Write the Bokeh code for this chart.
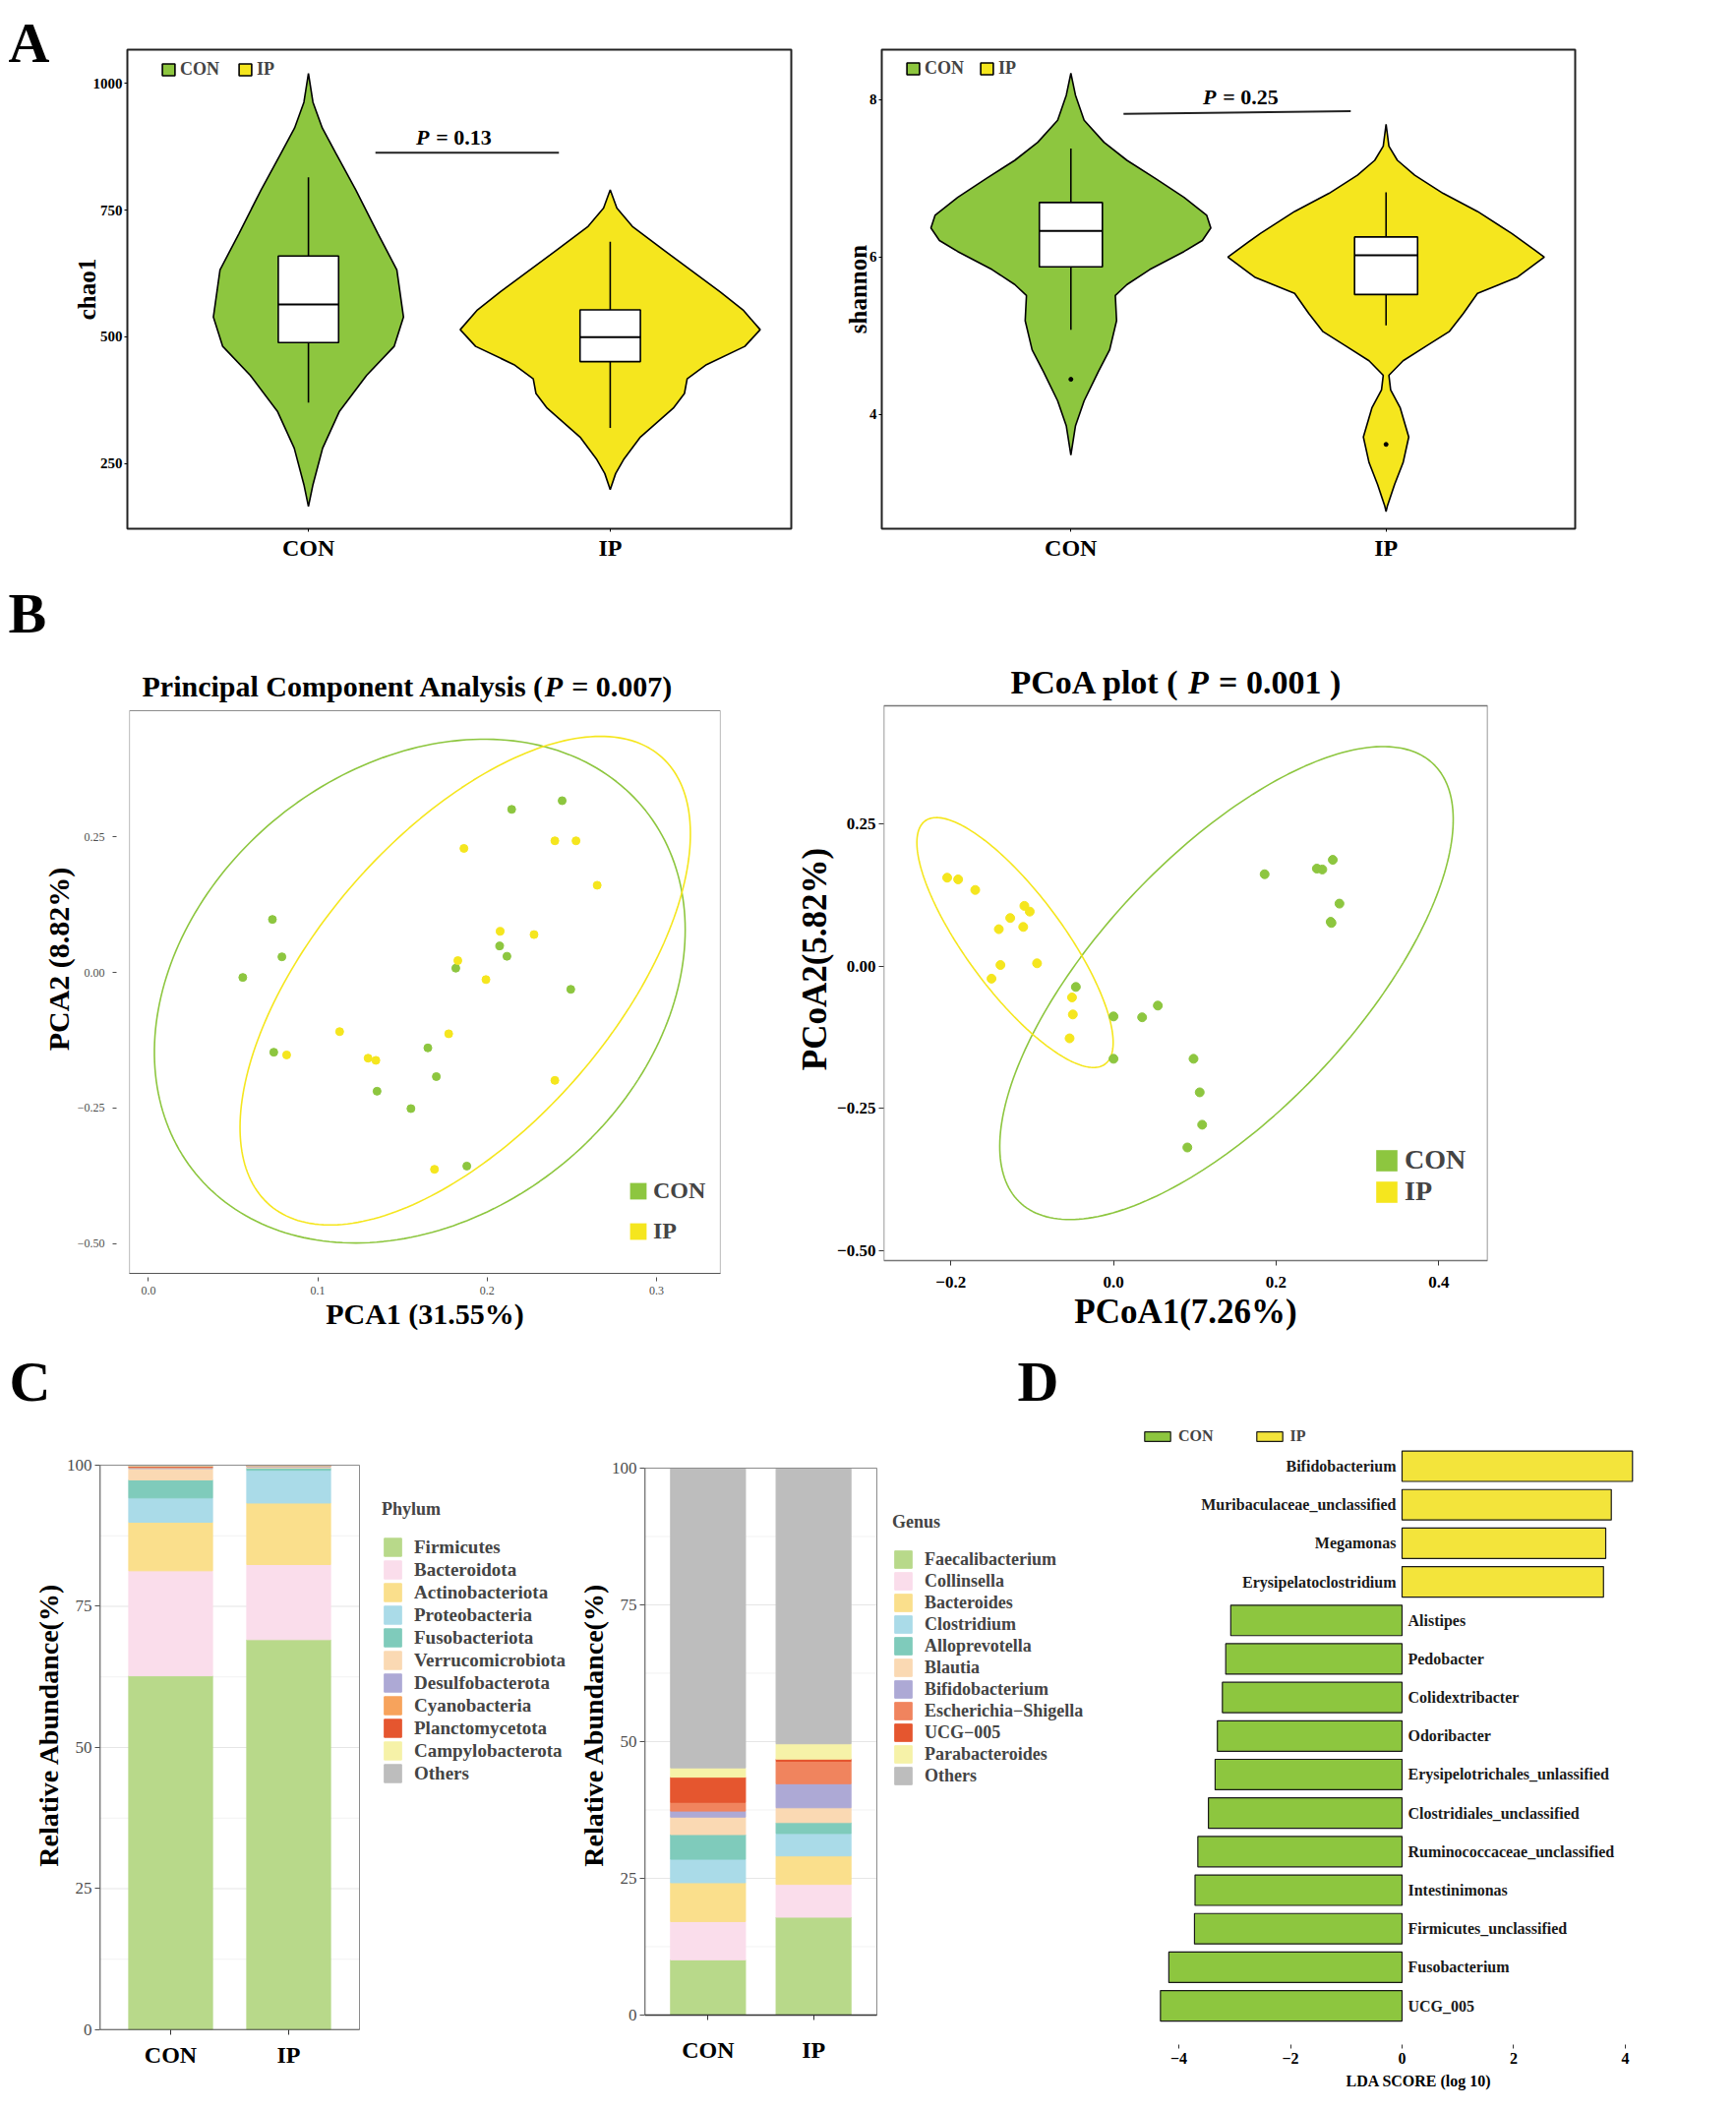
import numpy as np
from bokeh.plotting import figure
from bokeh.layouts import row, column
from bokeh.models import Range1d, Label, Legend, LegendItem, FixedTicker, ColumnDataSource
from bokeh.core.properties import value
from bokeh.embed import file_html
from bokeh.resources import INLINE

SERIF = "Liberation Serif"
GREEN = "#8DC63F"
YELLOW = "#F5E61E"
LDA_YELLOW = "#F3E43B"

groups = ["CON", "IP"]

# ---------------- Panel A: alpha diversity violins ----------------
chao1_con_val = [1020, 963, 912, 862, 790, 704, 632, 539, 481, 424, 352, 280, 208, 165]
chao1_con_half = [0.0, 0.015, 0.046, 0.091, 0.157, 0.230, 0.293, 0.315, 0.284, 0.193, 0.102, 0.047, 0.015, 0.0]
chao1_ip_val = [790, 754, 718, 661, 589, 553, 514, 481, 445, 417, 388, 359, 302, 259, 230, 198]
chao1_ip_half = [0.0, 0.022, 0.073, 0.200, 0.364, 0.440, 0.497, 0.446, 0.319, 0.255, 0.246, 0.209, 0.100, 0.046, 0.018, 0.0]
# q1, median, q3, lower whisker, upper whisker
chao1_box_con = [488.5, 564, 659.5, 370, 815]
chao1_box_ip = [451, 499, 553, 320, 687.5]
chao1_outliers_con = []
chao1_outliers_ip = []
chao1_ticks = [250, 500, 750, 1000]
chao1_p = "0.13"
chao1_p_pos = (1.5, 894)
chao1_p_line = (1.222, 863.5, 1.83, 863.5)

shannon_con_val = [8.338, 8.06, 7.74, 7.46, 7.23, 7.00, 6.76, 6.53, 6.37, 6.21, 6.07, 5.84, 5.65, 5.51, 5.19, 4.82, 4.54, 4.17, 3.85, 3.48]
shannon_con_half = [0, 0.0145, 0.042, 0.105, 0.178, 0.268, 0.359, 0.431, 0.444, 0.417, 0.359, 0.25, 0.178, 0.141, 0.145, 0.123, 0.087, 0.042, 0.0145, 0]
shannon_ip_val = [7.69, 7.41, 7.23, 7.04, 6.81, 6.58, 6.30, 6.00, 5.745, 5.537, 5.28, 5.05, 4.866, 4.68, 4.495, 4.31, 4.08, 3.71, 3.384, 3.106, 2.83, 2.76]
shannon_ip_half = [0, 0.009, 0.036, 0.091, 0.181, 0.29, 0.399, 0.502, 0.417, 0.29, 0.245, 0.2, 0.127, 0.054, 0.009, 0.0145, 0.045, 0.072, 0.054, 0.027, 0.004, 0]
shannon_box_con = [5.875, 6.333, 6.694, 5.074, 7.38]
shannon_box_ip = [5.523, 6.023, 6.255, 5.13, 6.824]
shannon_outliers_con = [4.444]
shannon_outliers_ip = [3.616]
shannon_ticks = [4, 6, 8]
shannon_p = "0.25"
shannon_p_pos = (1.556, 8.04)
shannon_p_line = (1.167, 7.82, 1.888, 7.856)

# ---------------- Panel B: ordination ----------------
pca_con_x = [0.2145, 0.2443, 0.0732, 0.0788, 0.0557, 0.2074, 0.2117, 0.1815, 0.2494, 0.074, 0.165, 0.170, 0.135, 0.155, 0.188]
pca_con_y = [0.301, 0.317, 0.098, 0.029, -0.009, 0.049, 0.030, 0.008, -0.031, -0.147, -0.139, -0.192, -0.219, -0.251, -0.357]
pca_ip_x = [0.1863, 0.240, 0.2525, 0.265, 0.2077, 0.2277, 0.1827, 0.1993, 0.1129, 0.1773, 0.0816, 0.1297, 0.1343, 0.240, 0.1689]
pca_ip_y = [0.229, 0.243, 0.243, 0.161, 0.076, 0.070, 0.022, -0.013, -0.109, -0.113, -0.152, -0.158, -0.162, -0.199, -0.363]

pcoa_con_x = [0.1858, 0.250, 0.2567, 0.2696, 0.2778, 0.267, 0.268, -0.0463, 0.000, 0.0352, 0.0545, 0.000, 0.0984, 0.106, 0.109, 0.0908]
pcoa_con_y = [0.1617, 0.1716, 0.170, 0.187, 0.110, 0.078, 0.076, -0.0366, -0.0885, -0.090, -0.0694, -0.163, -0.163, -0.222, -0.279, -0.319]
pcoa_ip_x = [-0.2045, -0.191, -0.170, -0.1096, -0.103, -0.127, -0.141, -0.111, -0.094, -0.139, -0.150, -0.051, -0.050, -0.054]
pcoa_ip_y = [0.1556, 0.1526, 0.134, 0.106, 0.096, 0.0847, 0.065, 0.069, 0.005, 0.002, -0.022, -0.055, -0.085, -0.127]

CHI2_95_2DF = 5.991

# ---------------- Panel C: relative abundance ----------------
phylum_names = ["Firmicutes", "Bacteroidota", "Actinobacteriota", "Proteobacteria", "Fusobacteriota",
                "Verrucomicrobiota", "Desulfobacterota", "Cyanobacteria", "Planctomycetota",
                "Campylobacterota", "Others"]
phylum_con = [62.7, 18.6, 8.6, 4.3, 3.2, 2.0, 0.15, 0.1, 0.15, 0.1, 0.1]
phylum_ip = [69.1, 13.3, 10.9, 5.8, 0.4, 0.2, 0.1, 0.05, 0.05, 0.05, 0.05]
phylum_colors = ["#B8D98A", "#FADDEB", "#FADF8C", "#AADBE8", "#7FCBBB", "#FAD9B3",
                 "#ADA9D5", "#F7A35C", "#E5562F", "#F6F2A8", "#BDBDBD"]

genus_names = ["Faecalibacterium", "Collinsella", "Bacteroides", "Clostridium", "Alloprevotella",
               "Blautia", "Bifidobacterium", "Escherichia\u2212Shigella", "UCG\u2212005",
               "Parabacteroides", "Others"]
genus_con = [10.1, 7.0, 7.1, 4.3, 4.5, 3.2, 1.1, 1.6, 4.6, 1.7, 54.8]
genus_ip = [17.9, 6.0, 5.2, 4.1, 2.0, 2.7, 4.4, 4.1, 0.4, 2.8, 50.4]
genus_colors = ["#B8D98A", "#FADDEB", "#FADF8C", "#AADBE8", "#7FCBBB", "#FAD9B3",
                "#ADA9D5", "#F0845E", "#E5562F", "#F6F2A8", "#BDBDBD"]
abund_ticks = [0, 25, 50, 75, 100]
abund_minor = [12.5, 37.5, 62.5, 87.5]

# ---------------- Panel D: LEfSe ----------------
lda_names = ["Bifidobacterium", "Muribaculaceae_unclassified", "Megamonas", "Erysipelatoclostridium",
             "Alistipes", "Pedobacter", "Colidextribacter", "Odoribacter",
             "Erysipelotrichales_unlassified", "Clostridiales_unclassified",
             "Ruminococcaceae_unclassified", "Intestinimonas", "Firmicutes_unclassified",
             "Fusobacterium", "UCG_005"]
lda_scores = [4.13, 3.75, 3.65, 3.61, -3.07, -3.16, -3.22, -3.31, -3.35, -3.47, -3.66, -3.71, -3.72, -4.18, -4.33]
lda_ticks = [-4, -2, 0, 2, 4]


# ---------------- helpers ----------------
def make_fig(xr, yr, fw, fh, ml, mr, mt, mb):
    p = figure(x_range=Range1d(*xr), y_range=Range1d(*yr), frame_width=fw, frame_height=fh,
               min_border_left=ml, min_border_right=mr, min_border_top=mt, min_border_bottom=mb,
               output_backend="svg", toolbar_location=None)
    p.grid.visible = False
    p.background_fill_color = "white"
    p.border_fill_color = "white"
    return p


def panel_letter(p, letter, offset, standoff):
    p.title.text = letter
    p.title.align = "left"
    p.title.offset = offset
    p.title.standoff = standoff
    p.title.vertical_align = "middle"
    p.title.text_font = SERIF
    p.title.text_font_size = "58px"
    p.title.text_font_style = "bold"
    p.title.text_color = "black"


def style_axis(ax, size, bold=True, color="black", tick_out=3, tick_in=0, standoff=2,
               line_color=None, tick_color="black", label_size="20px", label_standoff=0):
    ax.major_label_text_font = SERIF
    ax.major_label_text_font_size = size
    ax.major_label_text_font_style = "bold" if bold else "normal"
    ax.major_label_text_color = color
    ax.minor_tick_line_color = None
    ax.major_tick_out = tick_out
    ax.major_tick_in = tick_in
    ax.major_tick_line_color = tick_color
    ax.major_label_standoff = standoff
    ax.axis_line_color = line_color
    ax.axis_label_text_font = SERIF
    ax.axis_label_text_font_style = "bold"
    ax.axis_label_text_font_size = label_size
    ax.axis_label_standoff = label_standoff
    ax.axis_label_text_color = "black"


def add_label(p, x, y, text, size, style="bold", align="left", units="screen", x_offset=0):
    p.add_layout(Label(x=x, y=y, x_units=units, y_units=units, x_offset=x_offset, text=text,
                       text_font=SERIF, text_font_size=size, text_font_style=style,
                       text_align=align, text_baseline="middle", text_color="black"))


def draw_violin(p, center, vals, half, color, box, outliers):
    xs = [center - w for w in half] + [center + w for w in reversed(half)]
    ys = list(vals) + list(reversed(vals))
    r = p.patch(xs, ys, fill_color=color, line_color="black", line_width=1.6)
    q1, med, q3, lo, hi = box
    p.segment(x0=[center, center], y0=[lo, q3], x1=[center, center], y1=[q1, hi],
              line_color="black", line_width=1.6)
    p.quad(left=[center - 0.1], right=[center + 0.1], bottom=[q1], top=[q3],
           fill_color="white", line_color="black", line_width=1.6)
    p.segment(x0=[center - 0.1], x1=[center + 0.1], y0=[med], y1=[med], line_color="black", line_width=2)
    if outliers:
        p.scatter([center] * len(outliers), outliers, size=4, color="black")
    return r


def make_legend(items, loc, size, gw, gh, spacing, standoff, orientation="vertical",
                title=None, title_standoff=5, title_size=None):
    kw = {}
    if title:
        kw = dict(title=title, title_text_font=SERIF, title_text_font_size=title_size or size,
                  title_text_font_style="bold", title_standoff=title_standoff)
    return Legend(items=items, location=loc, orientation=orientation, padding=0, margin=0,
                  spacing=spacing, label_standoff=standoff, glyph_width=gw, glyph_height=gh,
                  label_height=gh, label_text_font=SERIF, label_text_font_size=size,
                  label_text_font_style="bold", border_line_color=None,
                  background_fill_alpha=0, **kw)


def legend_swatch(p, color):
    # a swatch-only renderer (NaN geometry) so the legend shows a filled square
    return p.quad(left=[np.nan], right=[np.nan], top=[np.nan], bottom=[np.nan],
                  fill_color=color, line_color=None)


def conf_ellipse(xs, ys, chi2):
    pts = np.column_stack([xs, ys])
    mu = pts.mean(axis=0)
    cov = np.cov(pts, rowvar=False)
    vals, vecs = np.linalg.eigh(cov)
    t = np.linspace(0, 2 * np.pi, 240)
    circ = np.vstack([np.cos(t), np.sin(t)])
    e = vecs @ (np.sqrt(vals * chi2)[:, None] * circ)
    return mu[0] + e[0], mu[1] + e[1]


def violin_panel(yr, fw, fh, ml, mr, mt, mb, data, ticks, ylabel, p_text, p_pos, p_line,
                 leg_loc, leg_spacing, label_standoff):
    p = make_fig((0.4, 2.6), yr, fw, fh, ml, mr, mt, mb)
    p.outline_line_color = "#222222"
    p.outline_line_width = 2
    rs = []
    for i, (vals, half, color, box, outl) in enumerate(data):
        rs.append(draw_violin(p, i + 1, vals, half, color, box, outl))
    x0, y0, x1, y1 = p_line
    p.segment(x0=[x0], y0=[y0], x1=[x1], y1=[y1], line_color="#222222", line_width=2)
    add_label(p, p_pos[0], p_pos[1], "P", "22px", style="bold italic", units="data", x_offset=-44)
    add_label(p, p_pos[0], p_pos[1], "= " + p_text, "22px", units="data", x_offset=-23.8)
    p.xaxis.ticker = FixedTicker(ticks=[1, 2])
    p.xaxis.major_label_overrides = {1: groups[0], 2: groups[1]}
    p.yaxis.ticker = FixedTicker(ticks=ticks)
    style_axis(p.xaxis[0], "24px", tick_out=3, standoff=3)
    style_axis(p.yaxis[0], "15px", tick_out=3, standoff=2, label_size="25px",
               label_standoff=label_standoff)
    p.yaxis.axis_label = ylabel
    leg = make_legend([LegendItem(label=g, renderers=[r]) for g, r in zip(groups, rs)],
                      leg_loc, "18px", 16, 15, leg_spacing, 4, orientation="horizontal")
    p.add_layout(leg)
    return p


# ---------------- Row A (frames 50..537) ----------------
a1 = violin_panel((121.0, 1066.8), 675, 487, 129, 46, 50, 51,
                  [(chao1_con_val, chao1_con_half, GREEN, chao1_box_con, chao1_outliers_con),
                   (chao1_ip_val, chao1_ip_half, YELLOW, chao1_box_ip, chao1_outliers_ip)],
                  chao1_ticks, "chao1", chao1_p, chao1_p_pos, chao1_p_line, (34, 456), 18, -10)
panel_letter(a1, "A", -121, -52)

a2 = violin_panel((2.543, 8.638), 705, 487, 46, 145, 50, 51,
                  [(shannon_con_val, shannon_con_half, GREEN, shannon_box_con, shannon_outliers_con),
                   (shannon_ip_val, shannon_ip_half, YELLOW, shannon_box_ip, shannon_outliers_ip)],
                  shannon_ticks, "shannon", shannon_p, shannon_p_pos, shannon_p_line, (24, 457), 15, -5)

# ---------------- Row B (frames 655..1294) ----------------
B1_X = (-0.0113, 0.3378)
B1_Y = (-0.555, 0.483)
b1 = make_fig(B1_X, (B1_Y[0], 0.6046), 601, 639, 131, 48, 67, 66)
b1.outline_line_color = None
b1.quad(left=[B1_X[0]], right=[B1_X[1]], bottom=[B1_Y[0]], top=[B1_Y[1]],
        fill_color=None, line_color="#8C8C8C", line_width=1.2)
for xs, ys, col in [(pca_con_x, pca_con_y, GREEN), (pca_ip_x, pca_ip_y, YELLOW)]:
    ex, ey = conf_ellipse(xs, ys, CHI2_95_2DF)
    b1.line(ex, ey, line_color=col, line_width=1.6)
lg1 = []
for xs, ys, col, g in [(pca_con_x, pca_con_y, GREEN, "CON"), (pca_ip_x, pca_ip_y, YELLOW, "IP")]:
    b1.scatter(xs, ys, size=8, color=col)
    lg1.append(LegendItem(label=g, renderers=[legend_swatch(b1, col)]))
b1.xaxis.ticker = FixedTicker(ticks=[0, 0.1, 0.2, 0.3])
b1.xaxis.major_label_overrides = {0: "0.0", 0.1: "0.1", 0.2: "0.2", 0.3: "0.3"}
b1.yaxis.ticker = FixedTicker(ticks=[-0.5, -0.25, 0, 0.25])
b1.yaxis.major_label_overrides = {-0.5: "\u22120.50", -0.25: "\u22120.25", 0: "0.00", 0.25: "0.25"}
style_axis(b1.xaxis[0], "12px", bold=False, color="#4D4D4D", tick_out=8, tick_in=-4, standoff=5,
           line_color="#555555", tick_color="#4D4D4D", label_size="30px", label_standoff=0)
style_axis(b1.yaxis[0], "12px", bold=False, color="#4D4D4D", tick_out=17, tick_in=-13, standoff=8,
           tick_color="#4D4D4D", label_size="30px", label_standoff=0)
b1.xaxis.axis_label = "PCA1 (31.55%)"
b1.yaxis.axis_label = "PCA2 (8.82%)"
b1.add_layout(make_legend(lg1, (507, 29), "24px", 21, 21, 14, 5))
add_label(b1, 13, 597, "Principal Component Analysis (", "30px")
add_label(b1, 422.2, 597, "P", "30px", style="bold italic")
add_label(b1, 449.7, 597, "= 0.007)", "30px")
panel_letter(b1, "B", -123, -2)

B2_X = (-0.2825, 0.46)
B2_Y = (-0.518, 0.458)
b2 = make_fig(B2_X, (-0.5405, 0.5653), 614, 639, 118, 235, 67, 66)
b2.outline_line_color = None
b2.quad(left=[B2_X[0]], right=[B2_X[1]], bottom=[B2_Y[0]], top=[B2_Y[1]],
        fill_color=None, line_color="#777777", line_width=1.5)
for xs, ys, col in [(pcoa_con_x, pcoa_con_y, GREEN), (pcoa_ip_x, pcoa_ip_y, YELLOW)]:
    ex, ey = conf_ellipse(xs, ys, CHI2_95_2DF)
    b2.line(ex, ey, line_color=col, line_width=1.6)
lg2 = []
for xs, ys, col, g in [(pcoa_con_x, pcoa_con_y, GREEN, "CON"), (pcoa_ip_x, pcoa_ip_y, YELLOW, "IP")]:
    b2.scatter(xs, ys, size=9, color=col)
    lg2.append(LegendItem(label=g, renderers=[legend_swatch(b2, col)]))
b2.xaxis.ticker = FixedTicker(ticks=[-0.2, 0, 0.2, 0.4])
b2.xaxis.major_label_overrides = {-0.2: "\u22120.2", 0: "0.0", 0.2: "0.2", 0.4: "0.4"}
b2.yaxis.ticker = FixedTicker(ticks=[-0.5, -0.25, 0, 0.25])
b2.yaxis.major_label_overrides = {-0.5: "\u22120.50", -0.25: "\u22120.25", 0: "0.00", 0.25: "0.25"}
style_axis(b2.xaxis[0], "17px", tick_out=-8, tick_in=13, standoff=3, tick_color="#333333",
           label_size="35px", label_standoff=2)
style_axis(b2.yaxis[0], "17px", tick_out=5, standoff=3, tick_color="#333333",
           label_size="35px", label_standoff=0)
b2.xaxis.axis_label = "PCoA1(7.26%)"
b2.yaxis.axis_label = "PCoA2(5.82%)"
b2.add_layout(make_legend(lg2, (498, 67), "28px", 27, 27, 0, 5))
add_label(b2, 129, 601, "PCoA plot (", "34px")
add_label(b2, 309.4, 601, "P", "34px", style="bold italic")
add_label(b2, 340.6, 601, "= 0.001 )", "34px")


# ---------------- Row C (frames 1443..2063) ----------------
def stacked_panel(names, con, ip, colors, title, yr, plot_w, fw, ml, leg_loc, gh,
                  tick_in, tick_out, standoff, leg_size):
    x_hi = 0.4 + 2.2 * fw / plot_w   # frame extends right to host the legend
    p = make_fig((0.4, x_hi), yr, fw, 620, ml, 0, 83, 77)
    p.outline_line_color = None
    # gridlines limited to the plotting box
    p.segment(x0=[0.4] * len(abund_minor), x1=[2.6] * len(abund_minor), y0=abund_minor, y1=abund_minor,
              line_color="#F2F2F2", line_width=1)
    p.segment(x0=[0.4] * len(abund_ticks), x1=[2.6] * len(abund_ticks), y0=abund_ticks, y1=abund_ticks,
              line_color="#E6E6E6", line_width=1.2)
    data = {"x": [1, 2]}
    for n, a, b in zip(names, con, ip):
        data[n] = [a, b]
    src = ColumnDataSource(data)
    p.yaxis.ticker = FixedTicker(ticks=abund_ticks)
    rs = p.vbar_stack(names, x="x", width=0.71, color=colors, source=src)
    # plot box: light top/right, dark left/bottom
    p.quad(left=[0.4], right=[2.6], bottom=[abund_ticks[0]], top=[abund_ticks[-1]],
           fill_color=None, line_color="#8C8C8C", line_width=1)
    p.segment(x0=[0.4, 0.4], y0=[abund_ticks[0], abund_ticks[0]], x1=[0.4, 2.6],
              y1=[abund_ticks[-1], abund_ticks[0]], line_color="#333333", line_width=1.5)
    p.xaxis.ticker = FixedTicker(ticks=[1, 2])
    p.xaxis.major_label_overrides = {1: groups[0], 2: groups[1]}
    style_axis(p.xaxis[0], "24px", tick_out=tick_out, tick_in=tick_in, standoff=standoff,
               tick_color="#333333")
    style_axis(p.yaxis[0], "17px", bold=False, color="#4D4D4D", tick_out=5, standoff=3,
               tick_color="#4D4D4D", label_size="28px", label_standoff=0)
    p.yaxis.axis_label = "Relative Abundance(%)"
    items = [LegendItem(label=n, renderers=[r]) for n, r in zip(names, rs)]
    p.add_layout(make_legend(items, leg_loc, leg_size, 22, gh, 0, 11, title=title,
                             title_standoff=16, title_size="18px"))
    return p


c1 = stacked_panel(phylum_names, phylum_con, phylum_ip, phylum_colors, "Phylum",
                   (0, 108.01), 264, 483, 101, (287, 249), 23, 0, 5, 7, "19px")
panel_letter(c1, "C", -92, 12)
c2 = stacked_panel(genus_names, genus_con, genus_ip, genus_colors, "Genus",
                   (-2.698, 108.81), 236, 488, 68, (252, 247), 22, 15, -10, 7, "18px")
panel_letter(c2, "D", 379, 12)

# ---------------- Panel D ----------------
d = make_fig((-4.9, 5.5), (-0.623, 15.2), 590, 620, 4, 16, 83, 77)
d.outline_line_color = None
n_lda = len(lda_names)
ypos = [n_lda - 1 - i for i in range(n_lda)]
pos_y = [y for y, s in zip(ypos, lda_scores) if s > 0]
pos_s = [s for s in lda_scores if s > 0]
pos_n = [n for n, s in zip(lda_names, lda_scores) if s > 0]
neg_y = [y for y, s in zip(ypos, lda_scores) if s <= 0]
neg_s = [s for s in lda_scores if s <= 0]
neg_n = [n for n, s in zip(lda_names, lda_scores) if s <= 0]
r_con = d.hbar(y=neg_y, left=0, right=neg_s, height=0.79, fill_color=GREEN, line_color="#1A1A1A", line_width=1.2)
r_ip = d.hbar(y=pos_y, left=0, right=pos_s, height=0.79, fill_color=LDA_YELLOW, line_color="#1A1A1A", line_width=1.2)
d.text(x=[0] * len(pos_y), y=pos_y, text=pos_n, x_offset=-6, text_align="right", text_baseline="middle",
       text_font=value(SERIF), text_font_size="16px", text_font_style="bold", text_color="#1A1A1A")
d.text(x=[0] * len(neg_y), y=neg_y, text=neg_n, x_offset=6, text_align="left", text_baseline="middle",
       text_font=value(SERIF), text_font_size="16px", text_font_style="bold", text_color="#1A1A1A")
d.xaxis.ticker = FixedTicker(ticks=lda_ticks)
style_axis(d.xaxis[0], "16px", tick_out=19, tick_in=-15, standoff=4, tick_color="#333333",
           label_size="16px", label_standoff=6)
d.xaxis.axis_label = "LDA SCORE (log 10)"
d.yaxis.visible = False
d.add_layout(make_legend([LegendItem(label="CON", renderers=[r_con]), LegendItem(label="IP", renderers=[r_ip])],
                         (13, 594), "16px", 33, 12, 40, 5, orientation="horizontal"))

layout = column(row(a1, a2), row(b1, b2), row(c1, c2, d))

with open("out.html", "w") as f:
    f.write(file_html(layout, INLINE))
